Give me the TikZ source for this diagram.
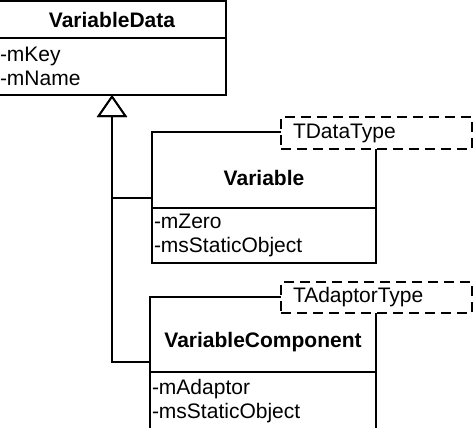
\documentclass[tikz,border=0pt]{standalone}
\usepackage{fontspec}
\setmainfont{Liberation Sans}
\usetikzlibrary{positioning,arrows.meta}

\newcommand\cfont{\fontsize{21}{24}\selectfont}

\begin{document}
\begin{tikzpicture}[x=1pt,y=-1pt,line width=1.8pt,
  box/.style={draw,rectangle,inner sep=0pt,outer sep=0pt,font=\cfont},
  attrs/.style={box,anchor=north,align=left,inner xsep=2pt},
  tparam/.style={draw,dash pattern=on 10pt off 6pt,fill=white,font=\cfont,
    minimum width=191pt,text width=167pt,inner xsep=12pt,inner ysep=0pt,align=left},
  inherit/.style={-{Triangle[open,length=22pt,width=30pt]}}]
\useasboundingbox (0,0) rectangle (474,428);
% base class
\node[box,minimum width=228pt,minimum height=37pt,font=\cfont\bfseries] (vdname) at (112,19.5) {VariableData};
\node[attrs,minimum width=228pt,minimum height=57pt,text width=224pt] (vdattr) at (vdname.south) {-mKey\\-mName};
% Variable
\node[box,minimum width=224pt,minimum height=76pt] (var) at (264,170) {};
\node[font=\cfont\bfseries] (varname) at ([yshift=-8pt]var.center) {Variable};
\node[attrs,minimum width=224pt,minimum height=55pt,text width=220pt] (varattr) at (var.south) {-mZero\\-msStaticObject};
\node[tparam,minimum height=32pt] (vartype) at (376.5,133) {TDataType};
% VariableComponent
\node[box,minimum width=226pt,minimum height=75pt] (comp) at (263,334.5) {};
\node[font=\cfont\bfseries] (compname) at ([yshift=-7.5pt]comp.center) {VariableComponent};
\node[attrs,minimum width=226pt,minimum height=58pt,text width=222pt] (compattr) at (comp.south) {-mAdaptor\\-msStaticObject};
\node[tparam,minimum height=31pt] (comptype) at (376.5,297.5) {TAdaptorType};
% inheritance
\draw[inherit] ([yshift=-28pt]var.west) -| (vdattr.south);
\draw[inherit] ([yshift=-27.5pt]comp.west) -| (vdattr.south);
\end{tikzpicture}
\end{document}
